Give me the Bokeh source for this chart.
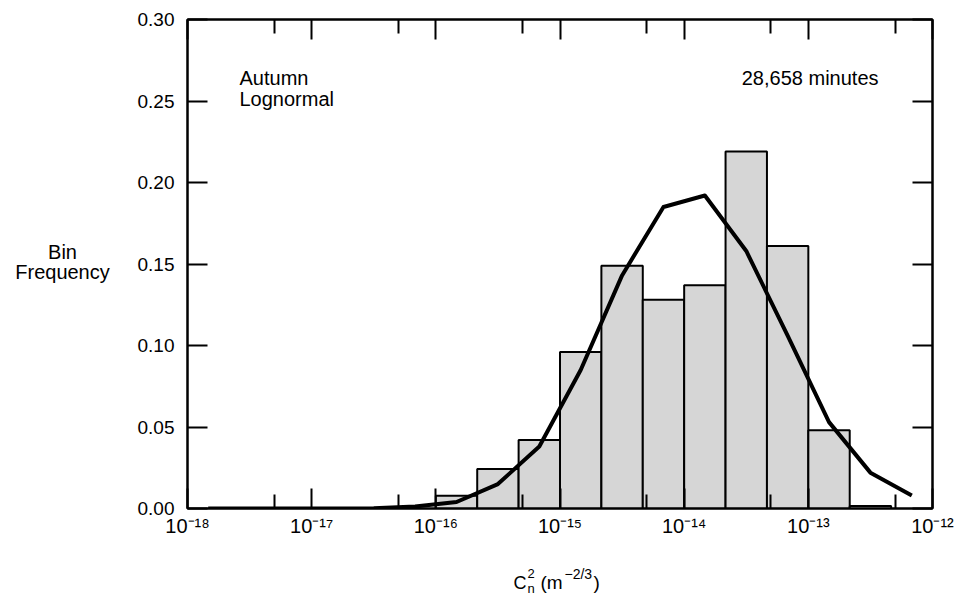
from bokeh.plotting import figure
from bokeh.layouts import row, column
from bokeh.models import FixedTicker, LinearAxis, LogAxis, Label, PrintfTickFormatter, CustomJSTickFormatter
from bokeh.embed import file_html
from bokeh.resources import INLINE

# ---- data ----
bin_edge_exp = [-16.0, -15.6667, -15.3333, -15.0, -14.6667, -14.3333, -14.0,
                -13.6667, -13.3333, -13.0, -12.6667, -12.3333]
bin_freq = [0.0078, 0.0243, 0.042, 0.096, 0.149, 0.128, 0.137, 0.219, 0.161, 0.048, 0.0015]

fit_exp = [-17.8333, -17.5, -17.1667, -16.8333, -16.5, -16.1667, -15.8333, -15.5,
           -15.1667, -14.8333, -14.5, -14.1667, -13.8333, -13.5, -13.1667, -12.8333,
           -12.5, -12.1667]
fit_freq = [0.0, 0.0, 0.0, 0.0, 0.0002, 0.0012, 0.004, 0.015, 0.038, 0.085, 0.143,
            0.185, 0.192, 0.158, 0.106, 0.053, 0.022, 0.008]

x_major_exp = [-18, -17, -16, -15, -14, -13, -12]
x_minor_exp = [-17.30103, -16.30103, -15.30103, -14.30103, -13.30103, -12.30103]  # 5 x 10^n
y_ticks = [0.0, 0.05, 0.10, 0.15, 0.20, 0.25, 0.30]

FONT = "Liberation Sans"
W, H = 963, 597
LW = 130                              # width of the left title strip
FL, FR, FT, FB = 187, 932, 19, 508   # main frame edges in page pixels
MAIN_H = FB + 44

left = [10 ** e for e in bin_edge_exp[:-1]]
right = [10 ** e for e in bin_edge_exp[1:]]
fit_x = [10 ** e for e in fit_exp]
x_major = [10.0 ** e for e in x_major_exp]
x_minor = [10 ** e for e in x_minor_exp]

# ---------------- main plot ----------------
p = figure(width=W - LW, height=MAIN_H, x_axis_type="log", x_range=(1e-18, 1e-12), y_range=(0, 0.30),
           output_backend="svg", toolbar_location=None,
           min_border_left=FL - LW, min_border_right=W - FR, min_border_top=FT,
           min_border_bottom=MAIN_H - FB)
p.background_fill_color = "white"
p.border_fill_color = "white"
p.grid.visible = False
p.outline_line_color = "black"
p.outline_line_width = 2

xt = FixedTicker(ticks=x_major, minor_ticks=x_minor)
yt = FixedTicker(ticks=y_ticks, minor_ticks=[])

def style(ax, show_labels):
    ax.axis_line_color = "black"
    ax.axis_line_width = 2
    ax.major_tick_line_color = "black"
    ax.major_tick_line_width = 2
    ax.minor_tick_line_color = "black"
    ax.minor_tick_line_width = 2
    ax.major_tick_in = 20
    ax.major_tick_out = 0
    ax.minor_tick_in = 14
    ax.minor_tick_out = 0
    if not show_labels:
        ax.formatter = CustomJSTickFormatter(code="return '';")
        ax.major_label_standoff = 0
        ax.major_label_text_font_size = "0px"

# bottom axis: 10 with superscript exponent
xa = p.xaxis[0]
xa.ticker = xt
style(xa, True)
xa.formatter = CustomJSTickFormatter(code="""
const sup = {"-": "\u207B", "0": "\u2070", "1": "\u00B9", "2": "\u00B2", "3": "\u00B3",
             "4": "\u2074", "5": "\u2075", "6": "\u2076", "7": "\u2077", "8": "\u2078", "9": "\u2079"};
const e = Math.round(Math.log10(tick));
return "10" + String(e).split("").map(c => sup[c]).join("");
""")
xa.major_label_text_font = FONT
xa.major_label_text_font_size = "20px"
xa.major_label_text_color = "black"
xa.major_label_standoff = 6

ya = p.yaxis[0]
ya.ticker = yt
style(ya, True)
ya.formatter = PrintfTickFormatter(format="%.2f")
ya.major_label_text_font = FONT
ya.major_label_text_font_size = "19px"
ya.major_label_text_color = "black"
ya.major_label_standoff = 13

ta = LogAxis(ticker=xt)
style(ta, False)
p.add_layout(ta, "above")
ra = LinearAxis(ticker=yt)
style(ra, False)
p.add_layout(ra, "right")

p.quad(left=left, right=right, top=bin_freq, bottom=0,
       fill_color="#d6d6d6", line_color="black", line_width=2)
p.line(fit_x, fit_freq, line_color="black", line_width=4, line_join="round")


def lab(fig, ox, oy, px, py, text, size, align="left"):
    """Label at page pixel (px, baseline py); (ox, oy) = page position of the figure frame's bottom-left."""
    fig.add_layout(Label(x=px - ox, y=oy - py, x_units="screen", y_units="screen", text=text,
                         text_align=align, text_baseline="alphabetic", text_font=FONT,
                         text_font_size=size, text_color="black"))

# in-plot annotations
lab(p, FL, FB, 239, 77, "Autumn", "20px")
lab(p, FL, FB, 239, 98, "Lognormal", "20px")
lab(p, FL, FB, 878, 77, "28,658 minutes", "20px", "right")

# ---------------- bottom strip: x title (frame aligned with the main frame) ----------------
b = figure(width=W - LW, height=H - MAIN_H, x_range=(0, 1), y_range=(0, 1),
           output_backend="svg", toolbar_location=None,
           x_axis_location=None, y_axis_location=None,
           min_border_left=0, min_border_right=0, min_border_top=0, min_border_bottom=0)
b.grid.visible = False
b.outline_line_color = None
b.background_fill_color = "white"
b.border_fill_color = "white"

lab(b, FL, H, 513, 582, "C", "18px")
lab(b, FL, H, 527, 573, "2", "13px")
lab(b, FL, H, 527, 588, "n", "13px")
lab(b, FL, H, 540, 582, "(m", "19px")
lab(b, FL, H, 564, 573, "\u22122/3", "14px")
lab(b, FL, H, 593, 582, ")", "19px")

# ---------------- left strip: y title ----------------
l = figure(width=LW, height=H, x_range=(0, 1), y_range=(0, 1),
           output_backend="svg", toolbar_location=None,
           x_axis_location=None, y_axis_location=None,
           min_border_left=0, min_border_right=0, min_border_top=0, min_border_bottom=0)
l.grid.visible = False
l.outline_line_color = None
l.background_fill_color = "white"
l.border_fill_color = "white"
lab(l, 0, H, 62, 251, "Bin", "20px", "center")
lab(l, 0, H, 62, 271, "Frequency", "20px", "center")

page = row(l, column(p, b, spacing=0), spacing=0)
open("out.html", "w").write(file_html(page, INLINE))
